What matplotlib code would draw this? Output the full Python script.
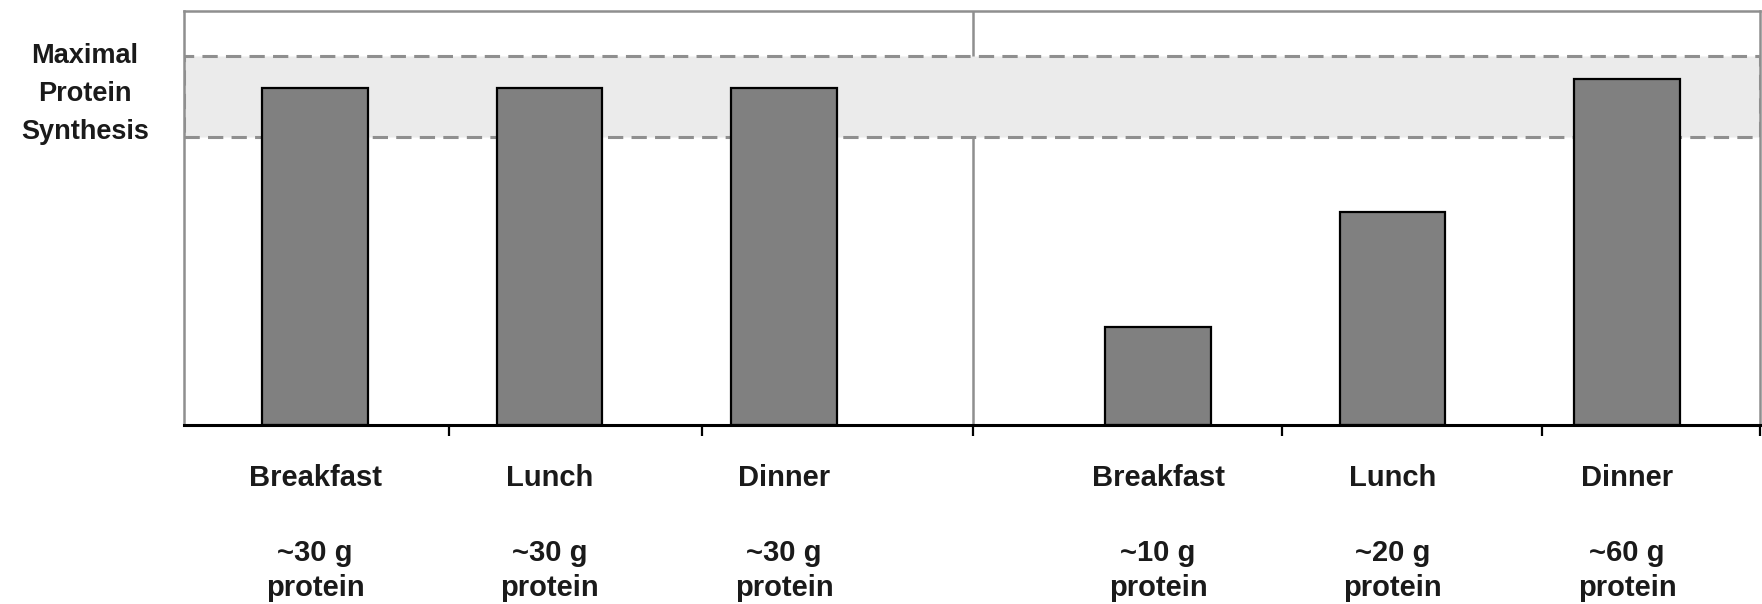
import matplotlib
matplotlib.use("Agg")
import matplotlib.pyplot as plt
import numpy as np

# data
meals = ["Breakfast", "Lunch", "Dinner"]
even_protein_g = [30, 30, 30]
skewed_protein_g = [10, 20, 60]
even_synthesis = [81.4, 81.4, 81.4]
skewed_synthesis = [23.7, 51.4, 83.6]
band_low, band_high = 69.6, 89.1
band_label = "Maximal\nProtein\nSynthesis"

# layout
right_offset = 3.595
divider_x = 2.806
tick_pos = [0.571, 1.65, 2.806, 4.124, 5.232, 6.162]
bar_w = 0.45
gray_line = "#8f8f8f"
bar_fill = "#808080"
font = ["Liberation Sans", "DejaVu Sans"]

plt.rcParams["font.family"] = font

fig = plt.figure(figsize=(17.62, 6.04), dpi=100)
ax = fig.add_axes([184 / 1762, 1 - 425 / 604, (1760 - 184) / 1762, (425 - 11) / 604])

x_left = np.arange(len(meals))
x_right = x_left + right_offset

ax.bar(x_left, even_synthesis, width=bar_w, color=bar_fill, edgecolor="black", linewidth=1.6, zorder=3)
ax.bar(x_right, skewed_synthesis, width=bar_w, color=bar_fill, edgecolor="black", linewidth=1.6, zorder=3)

# shaded band for maximal synthesis
ax.axhspan(band_low, band_high, facecolor="#ebebeb", edgecolor=gray_line,
           linestyle=(0, (5, 2.7)), linewidth=2.2, zorder=2)

# divider between the two patterns
ax.axvline(divider_x, color=gray_line, linewidth=1.8, zorder=1)

ax.set_xlim(-0.559, 6.162)
ax.set_ylim(0, 100)

for side in ["top", "left", "right"]:
    ax.spines[side].set_color(gray_line)
    ax.spines[side].set_linewidth(1.8)
ax.spines["bottom"].set_color("black")
ax.spines["bottom"].set_linewidth(2.2)
ax.spines["bottom"].set_zorder(4)

ax.set_yticks([])
ax.set_xticks(tick_pos)
ax.set_xticklabels([])
ax.tick_params(axis="x", direction="out", length=8, width=1.6, color="black")

txt = dict(ha="center", va="center", fontsize=21, fontweight="bold", color="#1a1a1a",
           xycoords=("data", "axes fraction"), textcoords="offset points")
for xs, grams in [(x_left, even_protein_g), (x_right, skewed_protein_g)]:
    for x, meal, g in zip(xs, meals, grams):
        ax.annotate(meal, (x, 0), xytext=(0, -38), **txt)
        ax.annotate(f"~{g} g\nprotein", (x, 0), xytext=(0, -105), linespacing=1.32, **txt)

fig.text(85 / 1762, 1 - 94 / 604, band_label, ha="center", va="center",
         fontsize=19.5, fontweight="bold", color="#1a1a1a", linespacing=1.6)

fig.savefig("out.png", dpi=100)
